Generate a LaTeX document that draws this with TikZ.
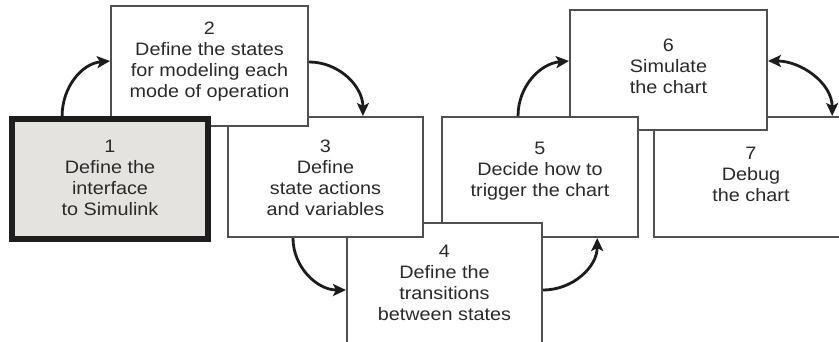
\documentclass[tikz,border=0pt]{standalone}
\usepackage{fontspec}
\setmainfont{Liberation Sans}[FakeStretch=1.10]
\usetikzlibrary{arrows.meta,calc}
\definecolor{boxline}{HTML}{505050}
\definecolor{txtcol}{HTML}{2A2A2A}
\definecolor{arrcol}{HTML}{1C1C1C}
\definecolor{onefill}{HTML}{E4E3E0}
\definecolor{onebord}{HTML}{1E1E1E}
\tikzset{
  stepbox/.style={draw=boxline, line width=2pt, fill=white, rectangle, inner sep=0pt},
  firstbox/.style={draw=onebord, line width=6pt, fill=onefill, rectangle, inner sep=0pt},
  lbl/.style={anchor=north, align=center, inner sep=0pt, text=txtcol,
    font=\fontsize{18}{21}\selectfont},
  arr/.style={draw=arrcol, line width=2.8pt, -{Stealth[length=13pt,width=12pt,inset=3pt]}},
  darr/.style={draw=arrcol, line width=2.8pt, {Stealth[length=13pt,width=12pt,inset=3pt]}-{Stealth[length=13pt,width=12pt,inset=3pt]}}
}
\begin{document}
\begin{tikzpicture}[x=1pt,y=-1pt]
\useasboundingbox (0,0) rectangle (839,341);
\clip (0,0) rectangle (839,341);
% boxes, drawn bottom-most first
\node[stepbox, minimum width=196pt, minimum height=120pt] (b7) at (752,177) {};
\node[stepbox, minimum width=197pt, minimum height=120pt] (b6) at (668.5,70) {};
\node[stepbox, minimum width=196pt, minimum height=120pt] (b5) at (540,177) {};
\node[stepbox, minimum width=195pt, minimum height=177pt] (b4) at (444.5,311.5) {};
\node[stepbox, minimum width=195pt, minimum height=120pt] (b3) at (325.5,177) {};
\node[stepbox, minimum width=197pt, minimum height=120pt] (b2) at (209.5,66) {};
\node[firstbox, minimum width=196pt, minimum height=120pt] (b1) at (110,179) {};
% texts
\node[lbl] (t1) at (110,139.5) {1\\Define the\\interface\\to Simulink};
\node[lbl] (t2) at (209.5,21.5) {2\\Define the states\\for modeling each\\mode of operation};
\node[lbl] (t3) at (325.5,140) {3\\Define\\state actions\\and variables};
\node[lbl] (t4) at (444.5,245) {4\\Define the\\transitions\\between states};
\node[lbl] (t5) at (540,141.5) {5\\Decide how to\\trigger the chart};
\node[lbl] (t6) at (668.5,38.5) {6\\Simulate\\the chart};
\node[lbl] (t7) at (751,146.5) {7\\Debug\\the chart};
% connectors
\draw[arr] ($(b1.north west)!0.263!(b1.north east)$) to[out=90,in=185] ($(b2.north west)!0.459!(b2.south west)$);
\draw[arr] ($(b2.north east)!0.467!(b2.south east)$) to[out=0,in=90] ($(b3.north west)!0.69!(b3.north east)$);
\draw[arr] ($(b3.south west)!0.335!(b3.south east)$) to[out=-90,in=180] ($(b4.north west)!0.38!(b4.south west)$);
\draw[arr] ($(b4.north east)!0.38!(b4.south east)$) to[out=0,in=-90] ($(b5.south west)!0.789!(b5.south east)$);
\draw[arr] ($(b5.north west)!0.389!(b5.north east)$) to[out=90,in=185] ($(b6.north west)!0.426!(b6.south west)$);
\draw[darr] ($(b6.north east)!0.426!(b6.south east)$) to[out=0,in=90] ($(b7.north west)!0.905!(b7.north east)$);
\end{tikzpicture}
\end{document}
